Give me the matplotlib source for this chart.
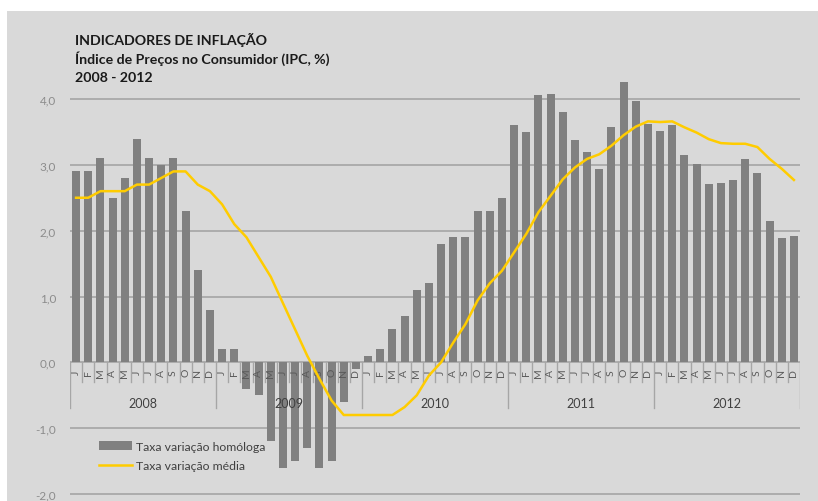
import matplotlib
matplotlib.use("Agg")
import matplotlib.pyplot as plt
import matplotlib.patches as patches
import numpy as np

plt.rcParams['font.family'] = ['Lato', 'DejaVu Sans']

# data
years = ["2008", "2009", "2010", "2011", "2012"]
months = ["J", "F", "M", "A", "M", "J", "J", "A", "S", "O", "N", "D"]

homologa = [
    2.9, 2.9, 3.1, 2.5, 2.8, 3.4, 3.1, 3.0, 3.1, 2.3, 1.4, 0.8,
    0.2, 0.2, -0.4, -0.5, -1.2, -1.6, -1.5, -1.3, -1.6, -1.5, -0.6, -0.1,
    0.1, 0.2, 0.5, 0.7, 1.1, 1.2, 1.8, 1.9, 1.9, 2.3, 2.3, 2.5,
    3.6, 3.5, 4.06, 4.08, 3.8, 3.38, 3.19, 2.94, 3.57, 4.26, 3.97, 3.62,
    3.51, 3.6, 3.15, 3.01, 2.71, 2.72, 2.77, 3.09, 2.88, 2.15, 1.89, 1.92,
]
media = [
    2.5, 2.5, 2.6, 2.6, 2.6, 2.7, 2.7, 2.8, 2.9, 2.9, 2.7, 2.6,
    2.4, 2.1, 1.9, 1.6, 1.3, 0.9, 0.5, 0.1, -0.25, -0.58, -0.8, -0.8,
    -0.8, -0.8, -0.8, -0.68, -0.5, -0.2, 0.0, 0.3, 0.58, 0.94, 1.2, 1.39,
    1.67, 1.95, 2.28, 2.53, 2.78, 2.96, 3.09, 3.16, 3.29, 3.45, 3.58, 3.66,
    3.65, 3.66, 3.57, 3.49, 3.39, 3.33, 3.32, 3.32, 3.27, 3.09, 2.94, 2.77,
]
yticks = [-2, -1, 0, 1, 2, 3, 4]

W, H = 818, 502
fig = plt.figure(figsize=(W / 100, H / 100), dpi=100)
fig.patch.set_facecolor("white")
fig.patches.append(patches.Rectangle((7 / W, 0), 1 - 7 / W, 1 - 12 / H,
                                     transform=fig.transFigure,
                                     facecolor="#d9d9d9", edgecolor="none",
                                     zorder=-5))

# axes placed so that 4,0 sits at y=100 px and -2,0 at y=495 px
ppu = (495 - 100) / 6.0
ymin, ymax = -2.1, 4.4
top_px = 100 - (ymax - 4) * ppu
bot_px = 495 + (-2 - ymin) * ppu
ax = fig.add_axes([70 / W, (H - bot_px) / H, 730 / W, (bot_px - top_px) / H])
ax.set_facecolor("none")
ax.set_zorder(2)

x = np.arange(len(homologa))
bars = ax.bar(x, homologa, width=0.66, color="#808080", zorder=2,
              label="Taxa variação homóloga")
line, = ax.plot(x, media, color="#ffcc00", lw=1.8, zorder=5,
                label="Taxa variação média")

ax.set_xlim(-0.5, len(x) - 0.5)
ax.set_ylim(ymin, ymax)
ax.set_yticks(yticks)
ax.set_yticklabels([f"{v:.1f}".replace(".", ",") for v in yticks])
ax.tick_params(axis="y", length=0, pad=10, labelsize=8.5, labelcolor="#8c8c8c")
ax.set_xticks([])
for s in ax.spines.values():
    s.set_visible(False)
for v in yticks:
    ax.axhline(v, color="#a0a0a0", lw=1.1, zorder=1)

# month / year category axis
sep_color = "#a6a6a6"
for i in range(len(x) + 1):
    low = -0.70 if i % 12 == 0 else -0.30
    ax.plot([i - 0.5, i - 0.5], [0, low], color=sep_color, lw=1, zorder=3)
for i in x:
    ax.text(i, -0.15, months[i % 12], rotation=90, ha="center", va="center",
            fontsize=7.5, color="#595959", zorder=4)
for k, yr in enumerate(years):
    ax.text(k * 12 + 5.5, -0.62, yr, ha="center", va="center",
            fontsize=9, color="#404040", zorder=4)

# titles
for txt, ypx in [("INDICADORES DE INFLAÇÃO", 40),
                 ("Índice de Preços no Consumidor (IPC, %)", 59),
                 ("2008 - 2012", 78)]:
    fig.text(75 / W, 1 - ypx / H, txt, fontsize=10.2, fontweight="bold",
             color="#1a1a1a", va="center")

leg = ax.legend(handles=[bars, line], loc="upper left",
                bbox_to_anchor=(99 / W, 1 - 442 / H),
                bbox_transform=fig.transFigure, frameon=False, fontsize=8.8,
                handlelength=2.7, handletextpad=0.3, labelspacing=0.65,
                borderpad=0, borderaxespad=0)
for t in leg.get_texts():
    t.set_color("#404040")

fig.savefig("out.png", dpi=100, facecolor=fig.get_facecolor())
